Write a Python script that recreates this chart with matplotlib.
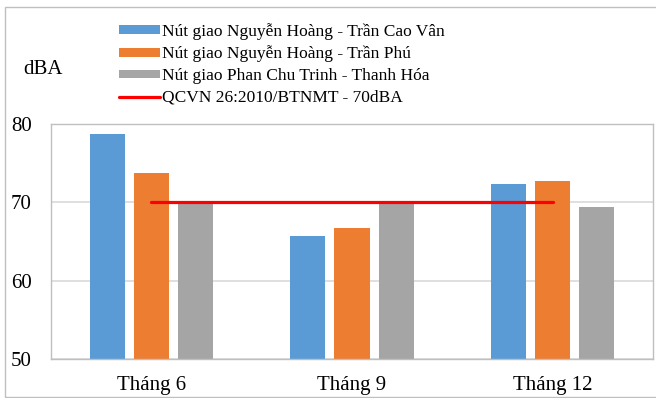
import matplotlib
matplotlib.use("Agg")
import matplotlib.pyplot as plt
from matplotlib.patches import Rectangle
import numpy as np

plt.rcParams['font.family'] = ['Liberation Serif', 'DejaVu Serif']

# data
months = ['Tháng 6', 'Tháng 9', 'Tháng 12']
series_names = ['Nút giao Nguyễn Hoàng - Trần Cao Vân',
                'Nút giao Nguyễn Hoàng - Trần Phú',
                'Nút giao Phan Chu Trinh - Thanh Hóa']
tran_cao_van = [78.7, 65.7, 72.4]
tran_phu = [73.8, 66.7, 72.7]
thanh_hoa = [69.8, 69.8, 69.4]
limit_label = 'QCVN 26:2010/BTNMT - 70dBA'
limit_value = 70
colors = ['#5B9BD5', '#ED7D31', '#A5A5A5']

W, H = 656, 398
fig = plt.figure(figsize=(W / 100, H / 100), dpi=100)
ax = fig.add_axes([51 / W, 39 / H, (653 - 51) / W, (359 - 124) / H])

x = np.arange(len(months))
width = 0.175
step = 0.22
handles = []
for i, (vals, name) in enumerate(zip([tran_cao_van, tran_phu, thanh_hoa], series_names)):
    b = ax.bar(x + (i - 1) * step, np.array(vals) - 50, width, bottom=50,
               color=colors[i], label=name, zorder=2)
    handles.append(b)

ln, = ax.plot([x[0], x[-1]], [limit_value, limit_value], color='#FF0000', lw=2.3,
              solid_capstyle='round', zorder=3, label=limit_label)
handles.append(ln)

ax.set_xlim(-0.5, len(months) - 0.5)
ax.set_ylim(50, 80)
ax.set_yticks([50, 60, 70, 80])
ax.set_xticks(x)
ax.set_xticklabels(months)
ax.tick_params(axis='both', length=0, labelsize=15)
ax.tick_params(axis='y', pad=14)
ax.tick_params(axis='x', pad=12)
ax.grid(axis='y', color='#D9D9D9', lw=1.2, zorder=0)
for s in ax.spines.values():
    s.set_color('#BFBFBF')
    s.set_linewidth(1.0)

fig.text(43 / W, 1 - 69 / H, 'dBA', ha='center', va='center', fontsize=15)

leg = fig.legend(handles=handles, labels=series_names + [limit_label],
                 loc='upper left', bbox_to_anchor=(119 / W, 1 - 23 / H),
                 frameon=False, fontsize=12.5, borderpad=0, borderaxespad=0,
                 labelspacing=0.33, handlelength=2.35, handleheight=0.4,
                 handletextpad=0.15)

fig.patches.append(Rectangle((5 / W, 1.3 / H), 1.0, (391 - 1.3) / H,
                             transform=fig.transFigure, fill=False,
                             edgecolor='#BFBFBF', lw=1.0))

fig.savefig('out.png', dpi=100)
